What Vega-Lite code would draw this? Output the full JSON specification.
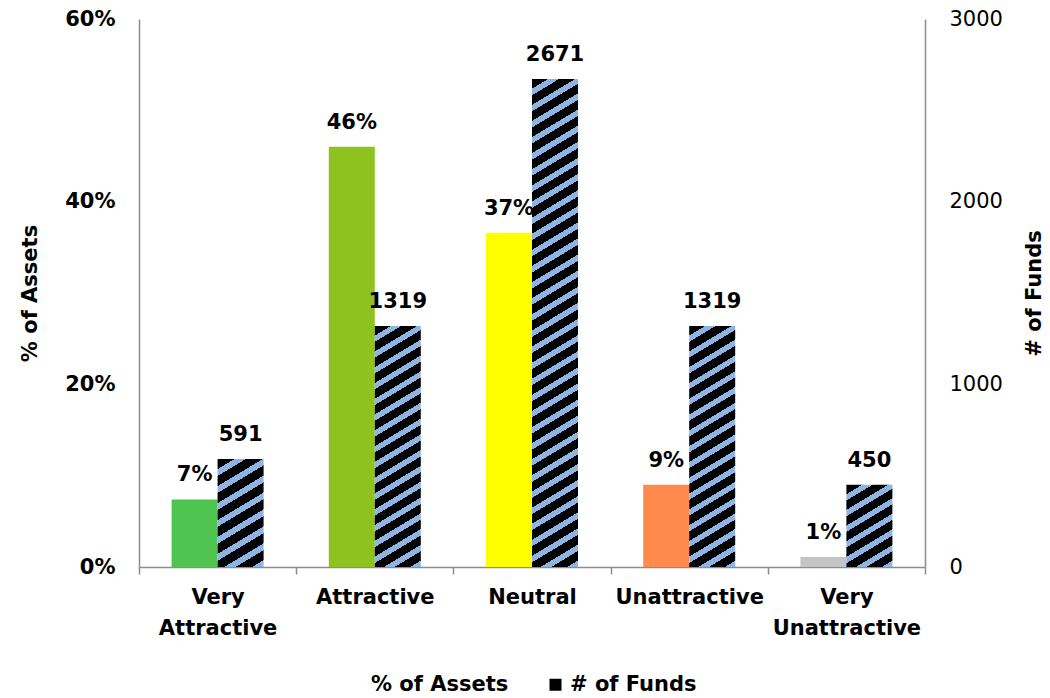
{
  "$schema": "https://vega.github.io/schema/vega-lite/v6.json",
  "width": 786,
  "height": 548,
  "autosize": {"type": "none"},
  "padding": {"left": 139, "top": 19, "right": 125, "bottom": 131},
  "background": "white",
  "config": {
    "view": {"stroke": null},
    "font": "DejaVu Sans",
    "axis": {"grid": false, "labelFont": "DejaVu Sans", "titleFont": "DejaVu Sans", "labelColor": "#000", "titleColor": "#000", "domainColor": "#8c8c8c", "domainWidth": 1.5, "tickColor": "#8c8c8c", "tickWidth": 1.5}
  },
  "data": {
    "values": [
      {"cat": "Very Attractive", "assets": 0.074, "funds": 591},
      {"cat": "Attractive", "assets": 0.46, "funds": 1319},
      {"cat": "Neutral", "assets": 0.366, "funds": 2671},
      {"cat": "Unattractive", "assets": 0.09, "funds": 1319},
      {"cat": "Very Unattractive", "assets": 0.011, "funds": 450}
    ]
  },
  "transform": [{"fold": ["assets", "funds"], "as": ["series", "value"]}],
  "encoding": {
    "x": {
      "field": "cat", "type": "nominal", "sort": null,
      "scale": {"paddingInner": 0, "paddingOuter": 0},
      "axis": {"title": null, "labelAngle": 0, "labelExpr": "split(datum.label, ' ')", "labelFontSize": 21, "labelFontWeight": "bold", "labelLineHeight": 31, "labelPadding": 12, "tickBand": "extent", "tickSize": 7}
    },
    "xOffset": {"field": "series", "type": "nominal", "scale": {"domain": ["assets", "funds"], "paddingInner": 0, "paddingOuter": 0.709}}
  },
  "layer": [
    {
      "transform": [{"filter": "datum.series === 'assets'"}],
      "encoding": {
        "y": {"field": "value", "type": "quantitative", "scale": {"domain": [0, 0.6], "nice": false},
          "axis": {"orient": "left", "title": "% of Assets", "format": ".0%", "values": [0, 0.2, 0.4, 0.6], "ticks": false, "labelPadding": 24, "labelFontSize": 21, "labelFontWeight": "bold", "titleFontSize": 21, "titleFontWeight": "bold", "titlePadding": 24}}
      },
      "layer": [
        {
          "mark": {"type": "bar"},
          "encoding": {
            "fill": {"field": "cat", "type": "nominal", "legend": null,
              "scale": {"domain": ["Very Attractive", "Attractive", "Neutral", "Unattractive", "Very Unattractive"], "range": ["#50c450", "#8dc21f", "#ffff00", "#ff8a4c", "#c4c4c4"]}}
          }
        },
        {
          "mark": {"type": "text", "dy": -18, "baseline": "alphabetic", "fontSize": 21, "fontWeight": "bold", "color": "#000"},
          "encoding": {"text": {"field": "value", "type": "quantitative", "format": ".0%"}}
        }
      ]
    },
    {
      "transform": [{"filter": "datum.series === 'funds'"}],
      "encoding": {
        "y": {"field": "value", "type": "quantitative", "scale": {"domain": [0, 3000], "nice": false},
          "axis": {"orient": "right", "title": "# of Funds", "titleAngle": 270, "format": "d", "values": [0, 1000, 2000, 3000], "ticks": false, "labelPadding": 24, "labelFontSize": 21, "labelFontWeight": "normal", "titleFontSize": 21, "titleFontWeight": "bold", "titlePadding": 42}}
      },
      "layer": [
        {
          "mark": {"type": "bar"},
          "encoding": {
            "fill": {
              "condition": [
                {"test": "datum.value == 591", "value": {"gradient": "linear", "x1": 0, "y1": 0, "x2": 0.3014, "y2": 1.1787, "stops": [
                  {"offset": 0, "color": "#000"}, {"offset": 0.075, "color": "#000"}, {"offset": 0.075, "color": "#8db4e2"}, {"offset": 0.125, "color": "#8db4e2"},
                  {"offset": 0.125, "color": "#000"}, {"offset": 0.2, "color": "#000"}, {"offset": 0.2, "color": "#8db4e2"}, {"offset": 0.25, "color": "#8db4e2"},
                  {"offset": 0.25, "color": "#000"}, {"offset": 0.325, "color": "#000"}, {"offset": 0.325, "color": "#8db4e2"}, {"offset": 0.375, "color": "#8db4e2"},
                  {"offset": 0.375, "color": "#000"}, {"offset": 0.45, "color": "#000"}, {"offset": 0.45, "color": "#8db4e2"}, {"offset": 0.5, "color": "#8db4e2"},
                  {"offset": 0.5, "color": "#000"}, {"offset": 0.575, "color": "#000"}, {"offset": 0.575, "color": "#8db4e2"}, {"offset": 0.625, "color": "#8db4e2"},
                  {"offset": 0.625, "color": "#000"}, {"offset": 0.7, "color": "#000"}, {"offset": 0.7, "color": "#8db4e2"}, {"offset": 0.75, "color": "#8db4e2"},
                  {"offset": 0.75, "color": "#000"}, {"offset": 0.825, "color": "#000"}, {"offset": 0.825, "color": "#8db4e2"}, {"offset": 0.875, "color": "#8db4e2"},
                  {"offset": 0.875, "color": "#000"}, {"offset": 0.95, "color": "#000"}, {"offset": 0.95, "color": "#8db4e2"}, {"offset": 1, "color": "#8db4e2"}
                ]}},
                {"test": "datum.value == 450", "value": {"gradient": "linear", "x1": 0, "y1": 0, "x2": 0.4031, "y2": 1.2004, "stops": [
                  {"offset": 0, "color": "#000"}, {"offset": 0.0857, "color": "#000"}, {"offset": 0.0857, "color": "#8db4e2"}, {"offset": 0.1429, "color": "#8db4e2"},
                  {"offset": 0.1429, "color": "#000"}, {"offset": 0.2286, "color": "#000"}, {"offset": 0.2286, "color": "#8db4e2"}, {"offset": 0.2857, "color": "#8db4e2"},
                  {"offset": 0.2857, "color": "#000"}, {"offset": 0.3714, "color": "#000"}, {"offset": 0.3714, "color": "#8db4e2"}, {"offset": 0.4286, "color": "#8db4e2"},
                  {"offset": 0.4286, "color": "#000"}, {"offset": 0.5143, "color": "#000"}, {"offset": 0.5143, "color": "#8db4e2"}, {"offset": 0.5714, "color": "#8db4e2"},
                  {"offset": 0.5714, "color": "#000"}, {"offset": 0.6571, "color": "#000"}, {"offset": 0.6571, "color": "#8db4e2"}, {"offset": 0.7143, "color": "#8db4e2"},
                  {"offset": 0.7143, "color": "#000"}, {"offset": 0.8, "color": "#000"}, {"offset": 0.8, "color": "#8db4e2"}, {"offset": 0.8571, "color": "#8db4e2"},
                  {"offset": 0.8571, "color": "#000"}, {"offset": 0.9429, "color": "#000"}, {"offset": 0.9429, "color": "#8db4e2"}, {"offset": 1, "color": "#8db4e2"}
                ]}},
                {"test": "datum.value == 1319", "value": {"gradient": "linear", "x1": 0, "y1": 0, "x2": 0.126, "y2": 1.1001, "stops": [
                  {"offset": 0, "color": "#000"}, {"offset": 0.0353, "color": "#000"}, {"offset": 0.0353, "color": "#8db4e2"}, {"offset": 0.0588, "color": "#8db4e2"},
                  {"offset": 0.0588, "color": "#000"}, {"offset": 0.0941, "color": "#000"}, {"offset": 0.0941, "color": "#8db4e2"}, {"offset": 0.1176, "color": "#8db4e2"},
                  {"offset": 0.1176, "color": "#000"}, {"offset": 0.1529, "color": "#000"}, {"offset": 0.1529, "color": "#8db4e2"}, {"offset": 0.1765, "color": "#8db4e2"},
                  {"offset": 0.1765, "color": "#000"}, {"offset": 0.2118, "color": "#000"}, {"offset": 0.2118, "color": "#8db4e2"}, {"offset": 0.2353, "color": "#8db4e2"},
                  {"offset": 0.2353, "color": "#000"}, {"offset": 0.2706, "color": "#000"}, {"offset": 0.2706, "color": "#8db4e2"}, {"offset": 0.2941, "color": "#8db4e2"},
                  {"offset": 0.2941, "color": "#000"}, {"offset": 0.3294, "color": "#000"}, {"offset": 0.3294, "color": "#8db4e2"}, {"offset": 0.3529, "color": "#8db4e2"},
                  {"offset": 0.3529, "color": "#000"}, {"offset": 0.3882, "color": "#000"}, {"offset": 0.3882, "color": "#8db4e2"}, {"offset": 0.4118, "color": "#8db4e2"},
                  {"offset": 0.4118, "color": "#000"}, {"offset": 0.4471, "color": "#000"}, {"offset": 0.4471, "color": "#8db4e2"}, {"offset": 0.4706, "color": "#8db4e2"},
                  {"offset": 0.4706, "color": "#000"}, {"offset": 0.5059, "color": "#000"}, {"offset": 0.5059, "color": "#8db4e2"}, {"offset": 0.5294, "color": "#8db4e2"},
                  {"offset": 0.5294, "color": "#000"}, {"offset": 0.5647, "color": "#000"}, {"offset": 0.5647, "color": "#8db4e2"}, {"offset": 0.5882, "color": "#8db4e2"},
                  {"offset": 0.5882, "color": "#000"}, {"offset": 0.6235, "color": "#000"}, {"offset": 0.6235, "color": "#8db4e2"}, {"offset": 0.6471, "color": "#8db4e2"},
                  {"offset": 0.6471, "color": "#000"}, {"offset": 0.6824, "color": "#000"}, {"offset": 0.6824, "color": "#8db4e2"}, {"offset": 0.7059, "color": "#8db4e2"},
                  {"offset": 0.7059, "color": "#000"}, {"offset": 0.7412, "color": "#000"}, {"offset": 0.7412, "color": "#8db4e2"}, {"offset": 0.7647, "color": "#8db4e2"},
                  {"offset": 0.7647, "color": "#000"}, {"offset": 0.8, "color": "#000"}, {"offset": 0.8, "color": "#8db4e2"}, {"offset": 0.8235, "color": "#8db4e2"},
                  {"offset": 0.8235, "color": "#000"}, {"offset": 0.8588, "color": "#000"}, {"offset": 0.8588, "color": "#8db4e2"}, {"offset": 0.8824, "color": "#8db4e2"},
                  {"offset": 0.8824, "color": "#000"}, {"offset": 0.9176, "color": "#000"}, {"offset": 0.9176, "color": "#8db4e2"}, {"offset": 0.9412, "color": "#8db4e2"},
                  {"offset": 0.9412, "color": "#000"}, {"offset": 0.9765, "color": "#000"}, {"offset": 0.9765, "color": "#8db4e2"}, {"offset": 1, "color": "#8db4e2"}
                ]}},
                {"test": "datum.value == 2671", "value": {"gradient": "linear", "x1": 0, "y1": 0, "x2": 0.0596, "y2": 1.0532, "stops": [
                  {"offset": 0, "color": "#000"}, {"offset": 0.01875, "color": "#000"}, {"offset": 0.01875, "color": "#8db4e2"}, {"offset": 0.03125, "color": "#8db4e2"},
                  {"offset": 0.03125, "color": "#000"}, {"offset": 0.05, "color": "#000"}, {"offset": 0.05, "color": "#8db4e2"}, {"offset": 0.0625, "color": "#8db4e2"},
                  {"offset": 0.0625, "color": "#000"}, {"offset": 0.08125, "color": "#000"}, {"offset": 0.08125, "color": "#8db4e2"}, {"offset": 0.09375, "color": "#8db4e2"},
                  {"offset": 0.09375, "color": "#000"}, {"offset": 0.1125, "color": "#000"}, {"offset": 0.1125, "color": "#8db4e2"}, {"offset": 0.125, "color": "#8db4e2"},
                  {"offset": 0.125, "color": "#000"}, {"offset": 0.14375, "color": "#000"}, {"offset": 0.14375, "color": "#8db4e2"}, {"offset": 0.15625, "color": "#8db4e2"},
                  {"offset": 0.15625, "color": "#000"}, {"offset": 0.175, "color": "#000"}, {"offset": 0.175, "color": "#8db4e2"}, {"offset": 0.1875, "color": "#8db4e2"},
                  {"offset": 0.1875, "color": "#000"}, {"offset": 0.20625, "color": "#000"}, {"offset": 0.20625, "color": "#8db4e2"}, {"offset": 0.21875, "color": "#8db4e2"},
                  {"offset": 0.21875, "color": "#000"}, {"offset": 0.2375, "color": "#000"}, {"offset": 0.2375, "color": "#8db4e2"}, {"offset": 0.25, "color": "#8db4e2"},
                  {"offset": 0.25, "color": "#000"}, {"offset": 0.26875, "color": "#000"}, {"offset": 0.26875, "color": "#8db4e2"}, {"offset": 0.28125, "color": "#8db4e2"},
                  {"offset": 0.28125, "color": "#000"}, {"offset": 0.3, "color": "#000"}, {"offset": 0.3, "color": "#8db4e2"}, {"offset": 0.3125, "color": "#8db4e2"},
                  {"offset": 0.3125, "color": "#000"}, {"offset": 0.33125, "color": "#000"}, {"offset": 0.33125, "color": "#8db4e2"}, {"offset": 0.34375, "color": "#8db4e2"},
                  {"offset": 0.34375, "color": "#000"}, {"offset": 0.3625, "color": "#000"}, {"offset": 0.3625, "color": "#8db4e2"}, {"offset": 0.375, "color": "#8db4e2"},
                  {"offset": 0.375, "color": "#000"}, {"offset": 0.39375, "color": "#000"}, {"offset": 0.39375, "color": "#8db4e2"}, {"offset": 0.40625, "color": "#8db4e2"},
                  {"offset": 0.40625, "color": "#000"}, {"offset": 0.425, "color": "#000"}, {"offset": 0.425, "color": "#8db4e2"}, {"offset": 0.4375, "color": "#8db4e2"},
                  {"offset": 0.4375, "color": "#000"}, {"offset": 0.45625, "color": "#000"}, {"offset": 0.45625, "color": "#8db4e2"}, {"offset": 0.46875, "color": "#8db4e2"},
                  {"offset": 0.46875, "color": "#000"}, {"offset": 0.4875, "color": "#000"}, {"offset": 0.4875, "color": "#8db4e2"}, {"offset": 0.5, "color": "#8db4e2"},
                  {"offset": 0.5, "color": "#000"}, {"offset": 0.51875, "color": "#000"}, {"offset": 0.51875, "color": "#8db4e2"}, {"offset": 0.53125, "color": "#8db4e2"},
                  {"offset": 0.53125, "color": "#000"}, {"offset": 0.55, "color": "#000"}, {"offset": 0.55, "color": "#8db4e2"}, {"offset": 0.5625, "color": "#8db4e2"},
                  {"offset": 0.5625, "color": "#000"}, {"offset": 0.58125, "color": "#000"}, {"offset": 0.58125, "color": "#8db4e2"}, {"offset": 0.59375, "color": "#8db4e2"},
                  {"offset": 0.59375, "color": "#000"}, {"offset": 0.6125, "color": "#000"}, {"offset": 0.6125, "color": "#8db4e2"}, {"offset": 0.625, "color": "#8db4e2"},
                  {"offset": 0.625, "color": "#000"}, {"offset": 0.64375, "color": "#000"}, {"offset": 0.64375, "color": "#8db4e2"}, {"offset": 0.65625, "color": "#8db4e2"},
                  {"offset": 0.65625, "color": "#000"}, {"offset": 0.675, "color": "#000"}, {"offset": 0.675, "color": "#8db4e2"}, {"offset": 0.6875, "color": "#8db4e2"},
                  {"offset": 0.6875, "color": "#000"}, {"offset": 0.70625, "color": "#000"}, {"offset": 0.70625, "color": "#8db4e2"}, {"offset": 0.71875, "color": "#8db4e2"},
                  {"offset": 0.71875, "color": "#000"}, {"offset": 0.7375, "color": "#000"}, {"offset": 0.7375, "color": "#8db4e2"}, {"offset": 0.75, "color": "#8db4e2"},
                  {"offset": 0.75, "color": "#000"}, {"offset": 0.76875, "color": "#000"}, {"offset": 0.76875, "color": "#8db4e2"}, {"offset": 0.78125, "color": "#8db4e2"},
                  {"offset": 0.78125, "color": "#000"}, {"offset": 0.8, "color": "#000"}, {"offset": 0.8, "color": "#8db4e2"}, {"offset": 0.8125, "color": "#8db4e2"},
                  {"offset": 0.8125, "color": "#000"}, {"offset": 0.83125, "color": "#000"}, {"offset": 0.83125, "color": "#8db4e2"}, {"offset": 0.84375, "color": "#8db4e2"},
                  {"offset": 0.84375, "color": "#000"}, {"offset": 0.8625, "color": "#000"}, {"offset": 0.8625, "color": "#8db4e2"}, {"offset": 0.875, "color": "#8db4e2"},
                  {"offset": 0.875, "color": "#000"}, {"offset": 0.89375, "color": "#000"}, {"offset": 0.89375, "color": "#8db4e2"}, {"offset": 0.90625, "color": "#8db4e2"},
                  {"offset": 0.90625, "color": "#000"}, {"offset": 0.925, "color": "#000"}, {"offset": 0.925, "color": "#8db4e2"}, {"offset": 0.9375, "color": "#8db4e2"},
                  {"offset": 0.9375, "color": "#000"}, {"offset": 0.95625, "color": "#000"}, {"offset": 0.95625, "color": "#8db4e2"}, {"offset": 0.96875, "color": "#8db4e2"},
                  {"offset": 0.96875, "color": "#000"}, {"offset": 0.9875, "color": "#000"}, {"offset": 0.9875, "color": "#8db4e2"}, {"offset": 1, "color": "#8db4e2"}
                ]}}
              ],
              "datum": "# of Funds",
              "type": "nominal",
              "scale": {"domain": ["% of Assets", "# of Funds"], "range": ["transparent", "#000"]},
              "legend": {
                "orient": "none", "legendX": 207, "legendY": 655, "direction": "horizontal", "title": null,
                "symbolType": "square", "symbolSize": 144, "symbolStrokeWidth": 0,
                "labelFont": "DejaVu Sans", "labelFontSize": 21, "labelFontWeight": "bold", "labelColor": "#000",
                "labelOffset": 4, "columnPadding": 36, "labelLimit": 300,
                "encode": {"symbols": {"update": {
                  "fill": [
                    {"test": "datum.value === '# of Funds'", "value": {"gradient": "linear", "x1": 0, "y1": 0, "x2": 1, "y2": 1, "stops": [{"offset": 0, "color": "#8db4e2"}, {"offset": 0.3, "color": "#8db4e2"}, {"offset": 0.3, "color": "#000"}, {"offset": 1, "color": "#000"}]}},
                    {"value": "transparent"}
                  ],
                  "stroke": {"value": "transparent"}
                }}}
              }
            }
          }
        },
        {
          "mark": {"type": "text", "dy": -18, "baseline": "alphabetic", "fontSize": 21, "fontWeight": "bold", "color": "#000"},
          "encoding": {"text": {"field": "value", "type": "quantitative", "format": "d"}}
        }
      ]
    }
  ],
  "resolve": {"scale": {"y": "independent", "fill": "independent"}}
}
